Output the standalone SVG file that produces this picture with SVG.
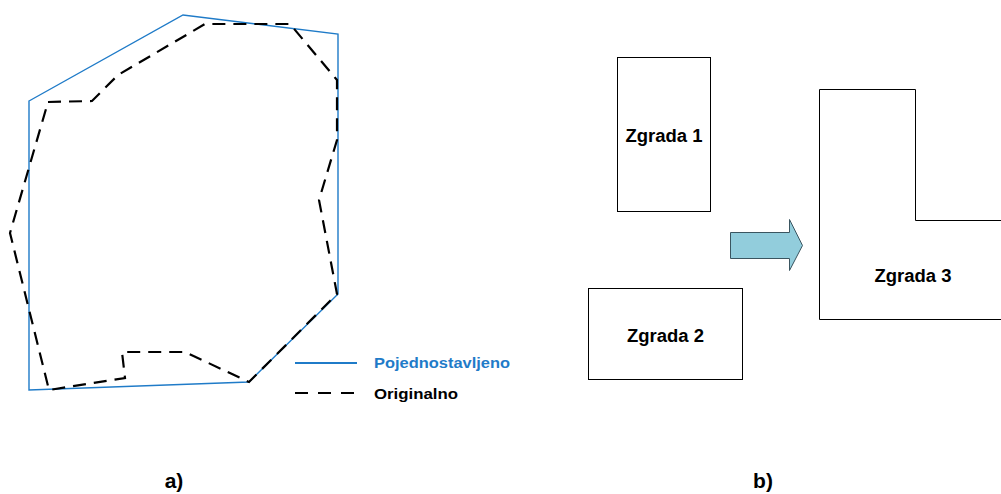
<svg xmlns="http://www.w3.org/2000/svg" width="1001" height="494" viewBox="0 0 1001 494">
<style>
.blue{fill:none;stroke:#1f7bc8;stroke-width:1.4;stroke-linejoin:miter}
.dash{fill:none;stroke:#000;stroke-width:2.2;stroke-dasharray:13,8}
.bld{fill:none;stroke:#000;stroke-width:1}
.t{font-family:"Liberation Sans",Arial,sans-serif;font-weight:bold;fill:#000}
.lbl{font-size:18px;text-anchor:middle}
.leg{font-size:14px}
.cap{font-size:21px;text-anchor:middle}
</style>
<rect width="1001" height="494" fill="#fff"/>
<g id="part-a">
<polygon id="simplified" class="blue" points="29,101 183,15 338,34 338,294 249,382 29,390"/>
<polygon id="original" class="dash" points="48,102 92,101 118,75 205,24 290,24 337,80 337,140 319,200 337,294 249,382 185,352 122,352 125,378 49,390 10,233"/>
<g id="legend">
<line x1="295" y1="363" x2="357" y2="363" stroke="#1f7bc8" stroke-width="2"/>
<text class="t leg" x="374" y="368" style="fill:#1f7bc8" textLength="136" lengthAdjust="spacingAndGlyphs">Pojednostavljeno</text>
<line x1="295" y1="393" x2="357" y2="393" stroke="#000" stroke-width="2" stroke-dasharray="13,10"/>
<text class="t leg" x="374" y="399" textLength="84" lengthAdjust="spacingAndGlyphs">Originalno</text>
</g>
<text class="t cap" x="174" y="488">a)</text>
</g>
<g id="part-b">
<g id="zgrada1">
<rect class="bld" x="617.5" y="57.5" width="93" height="154"/>
<text class="t lbl" x="664" y="142" textLength="77" lengthAdjust="spacingAndGlyphs">Zgrada 1</text>
</g>
<g id="zgrada2">
<rect class="bld" x="588.5" y="288.5" width="154" height="91"/>
<text class="t lbl" x="665.5" y="342" textLength="77" lengthAdjust="spacingAndGlyphs">Zgrada 2</text>
</g>
<g id="arrow">
<polygon points="730.5,232.5 789.5,232.5 789.5,219.5 802.5,245.5 789.5,270.5 789.5,258.5 730.5,258.5" fill="#92cddc" stroke="#3a5560" stroke-width="1"/>
</g>
<g id="zgrada3">
<path class="bld" d="M819.5,89.5 H915.5 V220.5 H1010 V319.5 H819.5 Z"/>
<text class="t lbl" x="913" y="282" textLength="77" lengthAdjust="spacingAndGlyphs">Zgrada 3</text>
</g>
<text class="t cap" x="763" y="488">b)</text>
</g>
</svg>
